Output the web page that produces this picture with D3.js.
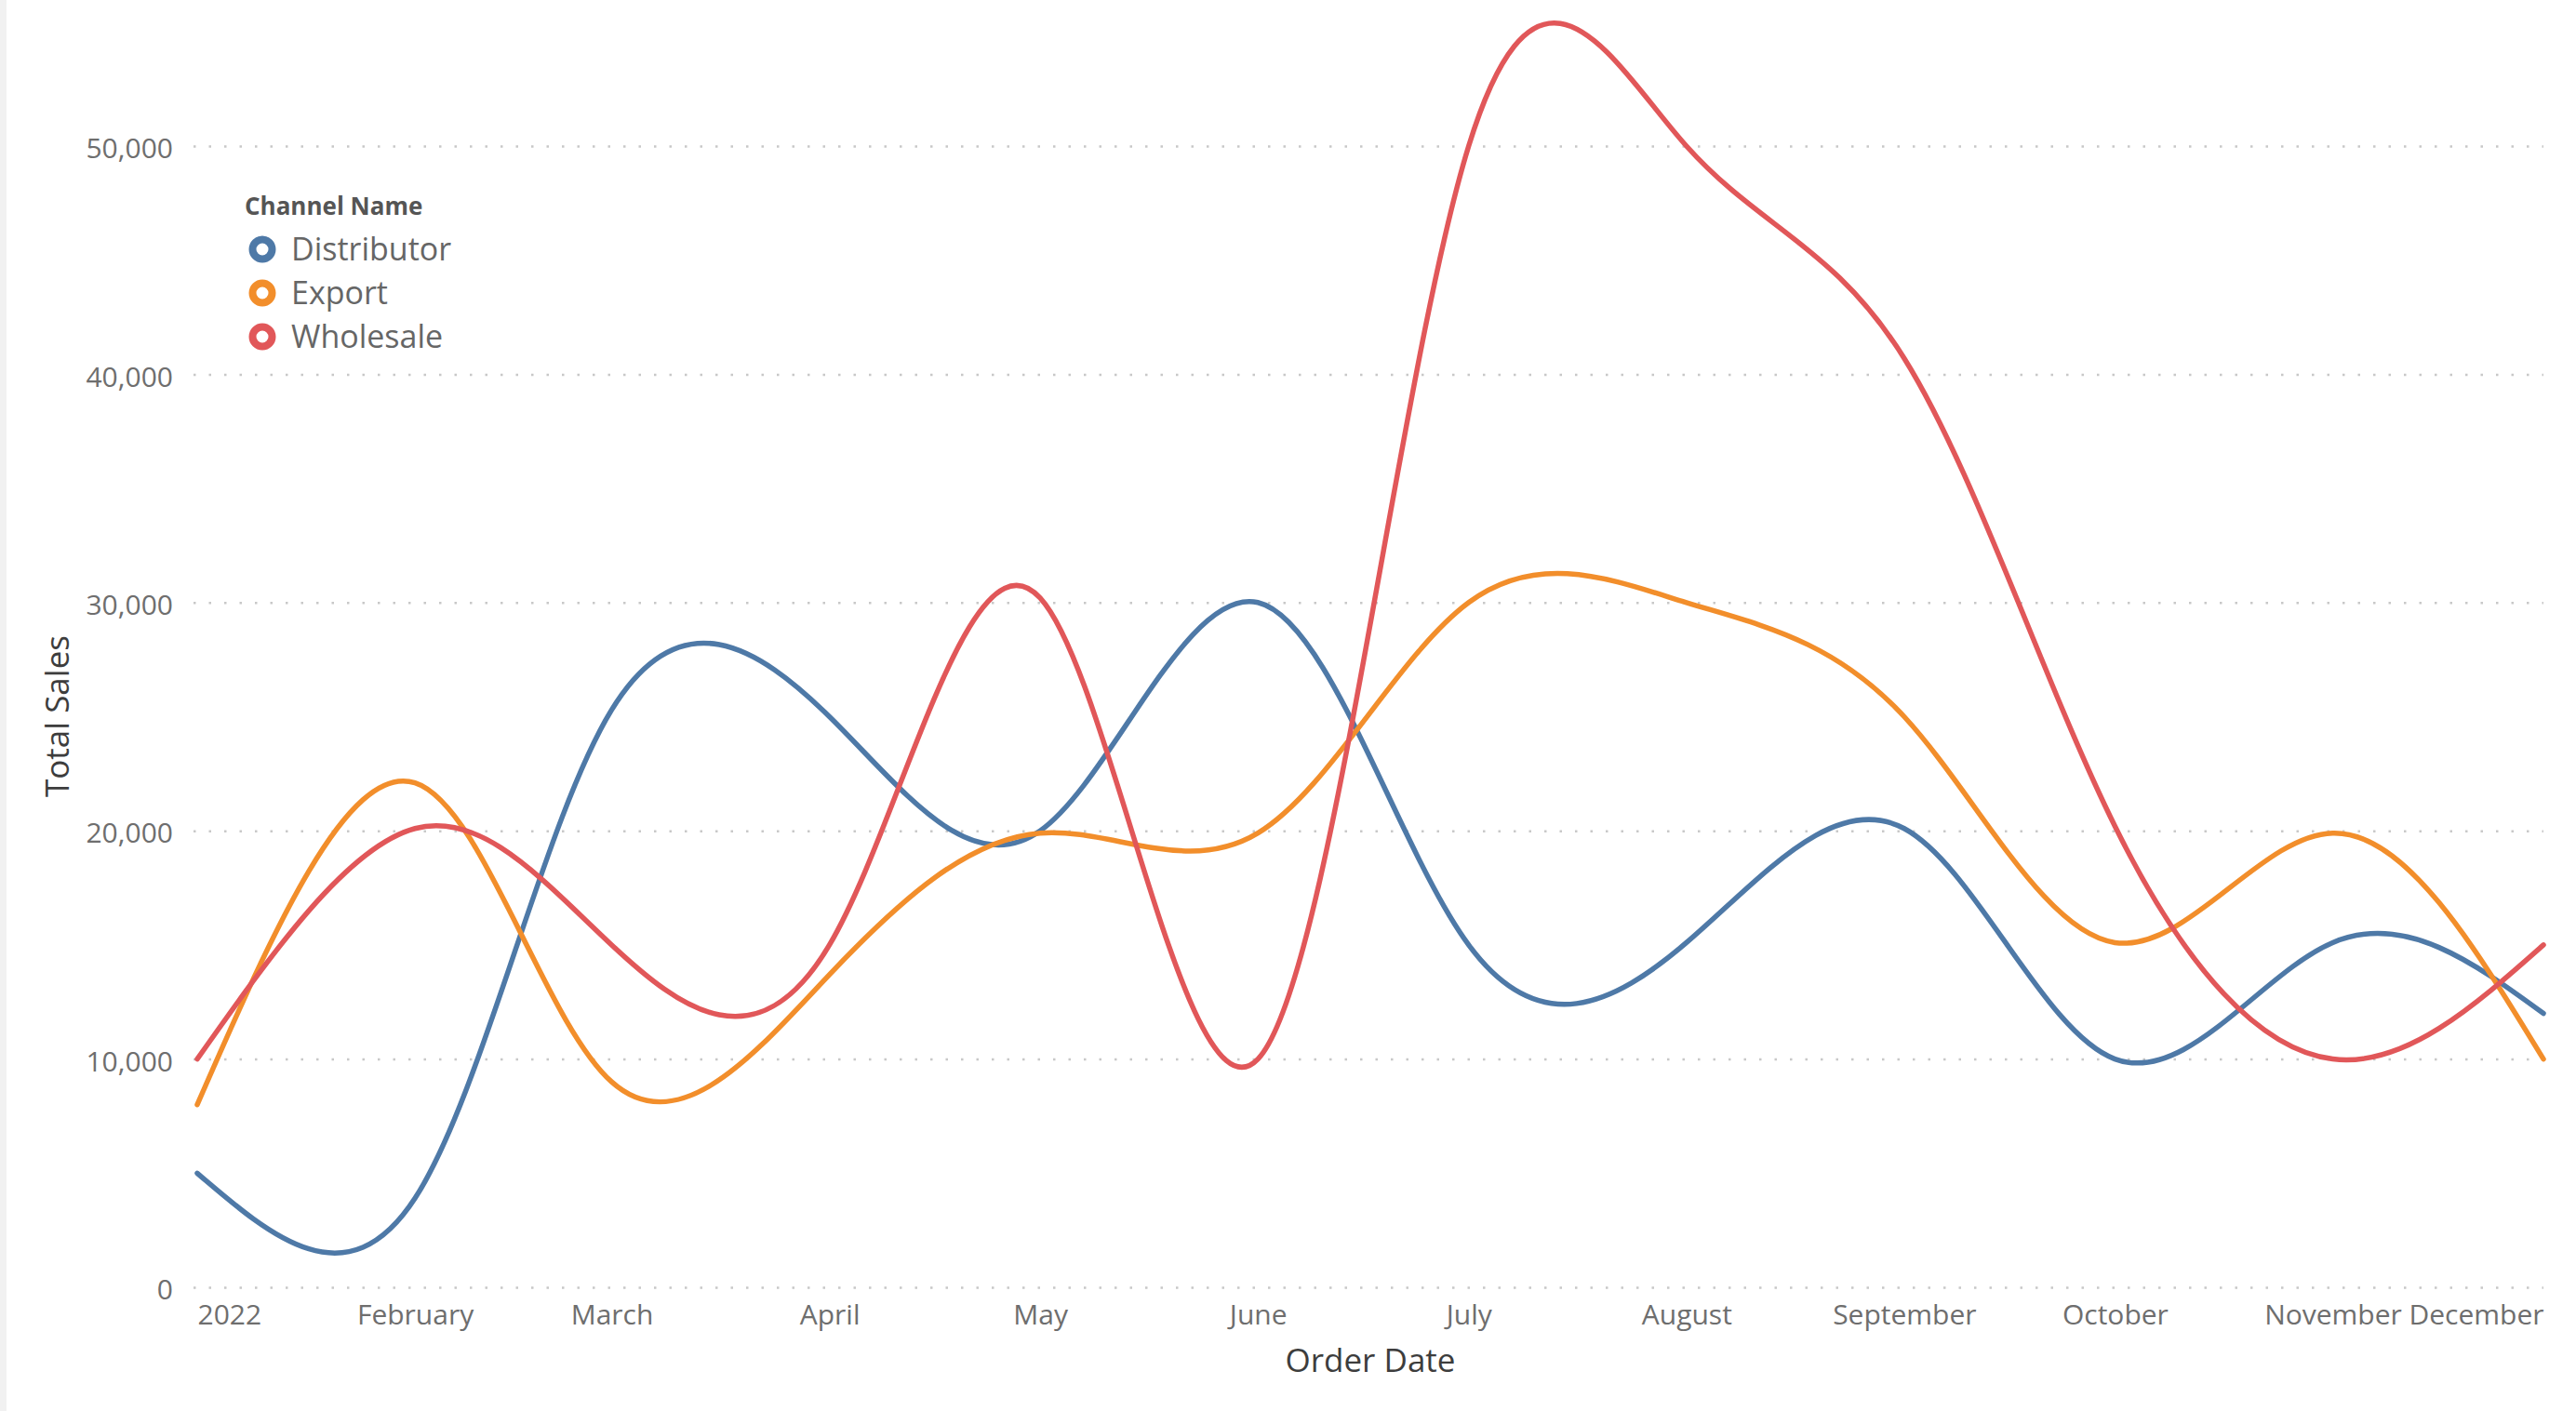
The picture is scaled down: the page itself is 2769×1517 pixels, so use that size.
<!DOCTYPE html>
<html>
<head>
<meta charset="utf-8">
<script src="https://cdn.jsdelivr.net/npm/d3@7"></script>
<style>
    body { margin: 0; background: #ffffff; }
    text { font-family: "Open Sans", "Noto Sans", sans-serif; }
</style>
</head>
<body>
<div id="chart"><svg></svg></div>
<script>

// months on the axis (first of each month)
var months = ["2022-01-01", "2022-02-01", "2022-03-01", "2022-04-01", "2022-05-01", "2022-06-01",
              "2022-07-01", "2022-08-01", "2022-09-01", "2022-10-01", "2022-11-01", "2022-12-01"];
var monthLabels = ["2022", "February", "March", "April", "May", "June",
                   "July", "August", "September", "October", "November", "December"];

var channels = ["Distributor", "Export", "Wholesale"];

// total sales per month
var distributor = [5000, 3900, 25300, 25000, 20000, 30000, 15000, 15100, 20100, 10000, 15100, 12000];
var exportSales = [8000, 22100, 9000, 13700, 19900, 19900, 30000, 30000, 25000, 15100, 19900, 10000];
var wholesale   = [10000, 20100, 15000, 15000, 30200, 10000, 50000, 50000, 40700, 20200, 10000, 15000];

var yTicks = [0, 10000, 20000, 30000, 40000, 50000];

var colors = ["#4e79a7", "#f28e2b", "#e15759"];

/**
 * Constructor
 */
function LineView(svgid, width, height){
    this.svgId = svgid;
    this.svgWidth  = width;
    this.svgHeight = height;
    this.left = 212;
    this.right = 2734;
    this.top = 157;     // 50,000 line
    this.bottom = 1384; // 0 line
}

/**
 * Initialization
 */
LineView.prototype.init = function(){

    this.svg = d3.select(this.svgId).select('svg')
        .attr('width', this.svgWidth)
        .attr('height', this.svgHeight);

    // thin grey strip at the left edge
    this.svg.append('rect')
        .attr('x', 0).attr('y', 0)
        .attr('width', 7).attr('height', this.svgHeight)
        .attr('fill', '#f1f1f1');

    var parse = d3.timeParse('%Y-%m-%d');
    this.dates = months.map(parse);

    this.x = d3.scaleTime()
        .domain([this.dates[0], this.dates[this.dates.length - 1]])
        .range([this.left, this.right]);

    this.y = d3.scaleLinear()
        .domain([0, 50000])
        .range([this.bottom, this.top]);

    this.group = this.svg.append('g');
};

/**
 * Draw the axes, lines and legend
 */
LineView.prototype.update = function(){
    var self = this;
    var x = this.x, y = this.y;

    // y axis with dotted grid
    var yAxis = d3.axisLeft(y)
        .tickValues(yTicks)
        .tickFormat(d3.format(','))
        .tickSize(-(this.right - this.left))
        .tickPadding(26);

    var gy = this.group.append('g')
        .attr('transform', 'translate(' + this.left + ',0)')
        .call(yAxis);
    gy.select('.domain').remove();
    gy.selectAll('.tick line')
        .attr('stroke', '#c8c8c8')
        .attr('stroke-width', 2.5)
        .attr('stroke-dasharray', '2.5 14')
        .attr('x2', this.right - this.left + 4)
        .attr('transform', 'translate(-4,0)');
    gy.selectAll('.tick text')
        .attr('fill', '#6e6e6e')
        .attr('dy', '0.42em')
        .style('font-size', '30px');

    // x axis, month labels
    var xAxis = d3.axisBottom(x)
        .tickValues(this.dates)
        .tickFormat(function (d, i) { return monthLabels[i]; })
        .tickSize(0)
        .tickPadding(19);

    var gx = this.group.append('g')
        .attr('transform', 'translate(0,' + this.bottom + ')')
        .call(xAxis);
    gx.select('.domain').remove();
    gx.selectAll('.tick text')
        .attr('fill', '#6e6e6e')
        .style('font-size', '30px')
        .attr('text-anchor', function (d, i) {
            if (i === 0) return 'start';
            if (i === monthLabels.length - 1) return 'end';
            return 'middle';
        });

    // axis titles
    this.svg.append('text')
        .attr('x', (this.left + this.right) / 2)
        .attr('y', 1475)
        .attr('text-anchor', 'middle')
        .attr('fill', '#3d3d3d')
        .style('font-size', '35px')
        .text('Order Date');

    this.svg.append('text')
        .attr('transform', 'translate(74,770) rotate(-90)')
        .attr('text-anchor', 'middle')
        .attr('fill', '#3d3d3d')
        .style('font-size', '35px')
        .text('Total Sales');

    // lines
    var series = [distributor, exportSales, wholesale];
    var line = d3.line()
        .x(function (d, i) { return x(self.dates[i]); })
        .y(function (d) { return y(d); })
        .curve(d3.curveNatural);

    this.group.selectAll('path.series').data(series).enter()
        .append('path')
        .attr('class', 'series')
        .attr('d', line)
        .attr('fill', 'none')
        .attr('stroke', function (d, i) { return colors[i]; })
        .attr('stroke-width', 5.5)
        .attr('stroke-linecap', 'round');

    // legend
    var legend = this.svg.append('g');
    legend.append('text')
        .attr('x', 263)
        .attr('y', 231)
        .attr('fill', '#555555')
        .style('font-size', '26px')
        .style('font-weight', 'bold')
        .text('Channel Name');

    var items = legend.selectAll('g.item').data(channels).enter()
        .append('g')
        .attr('class', 'item')
        .attr('transform', function (d, i) { return 'translate(282,' + (268 + i * 47) + ')'; });
    items.append('circle')
        .attr('r', 10.5)
        .attr('fill', 'none')
        .attr('stroke', function (d, i) { return colors[i]; })
        .attr('stroke-width', 8);
    items.append('text')
        .attr('x', 31)
        .attr('y', 12)
        .attr('fill', '#666666')
        .style('font-size', '34px')
        .text(function (d) { return d; });
};

var view = new LineView('#chart', 2769, 1517);
view.init();
view.update();

</script>
</body>
</html>
